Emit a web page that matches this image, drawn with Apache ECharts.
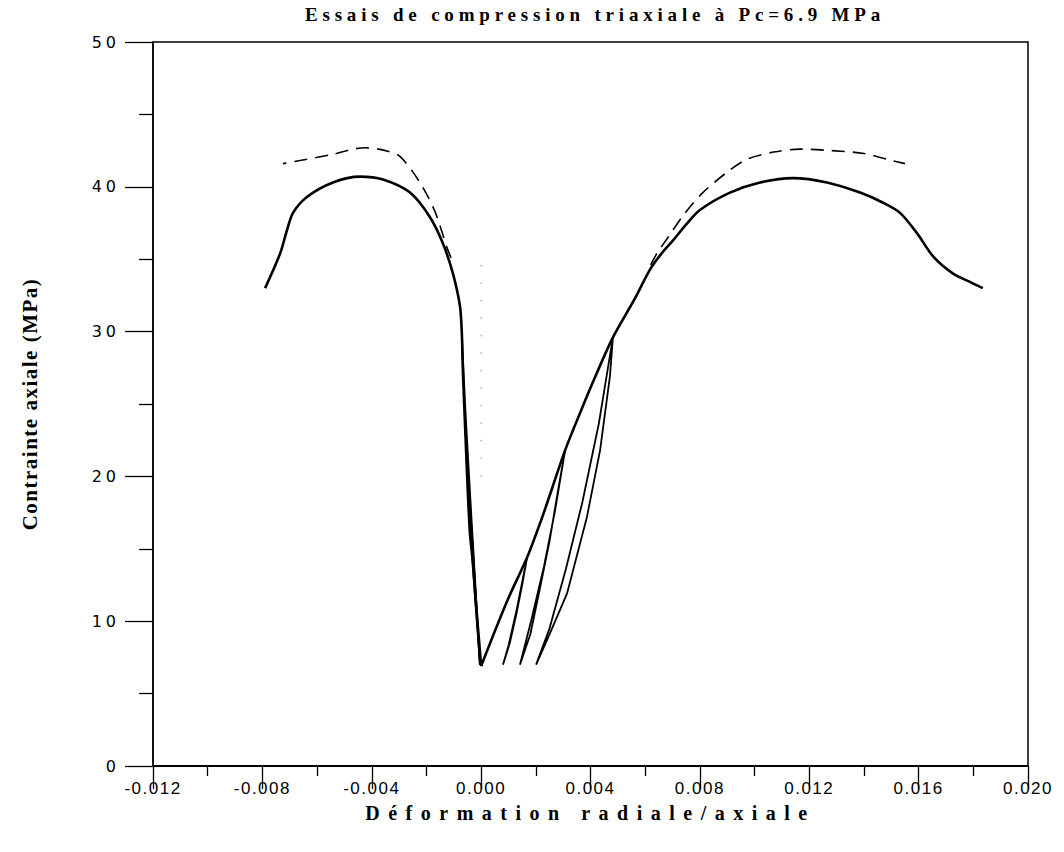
<!DOCTYPE html>
<html>
<head>
<meta charset="utf-8">
<script src="https://cdn.jsdelivr.net/npm/echarts@6/dist/echarts.min.js"></script>
<style>
  html, body { margin: 0; padding: 0; background: #fff; }
  #chart { width: 1064px; height: 852px; }
</style>
</head>
<body>
<div id="chart"></div>
<script>
// ---- Data (strain, stress in MPa) ----
const xTicks = [-0.012, -0.008, -0.004, 0.000, 0.004, 0.008, 0.012, 0.016, 0.020];
const yTicks = [0, 10, 20, 30, 40, 50];

// Axial side: loading envelope from the minimum up through the cycles and on to the end
const axialEnvelope = [
  [0.0000, 6.9], [0.0005, 9.3], [0.0010, 11.6], [0.00168, 14.4], [0.0022, 17.0],
  [0.0026, 19.2], [0.00307, 21.8], [0.0036, 24.3], [0.0042, 27.0], [0.00482, 29.6],
  [0.0056, 32.2], [0.00618, 34.3], [0.0066, 35.4], [0.00702, 36.3], [0.0075, 37.4],
  [0.0080, 38.4], [0.0091, 39.6], [0.0102, 40.3], [0.0114, 40.6], [0.01265, 40.3],
  [0.01386, 39.6], [0.0147, 38.9], [0.01532, 38.2], [0.01594, 36.8], [0.01653, 35.2],
  [0.01726, 34.0], [0.0178, 33.5], [0.01835, 33.0]
];
const axialCycle1 = [
  [0.00168, 14.4], [0.0015, 12.5], [0.00128, 10.4], [0.00105, 8.5], [0.0008, 7.0],
  [0.0010, 8.3], [0.0013, 10.8], [0.00168, 14.4]
];
const axialCycle2 = [
  [0.00307, 21.8], [0.0028, 18.9], [0.0025, 15.5], [0.0021, 11.8], [0.0018, 9.1], [0.00142, 7.0],
  [0.0018, 9.8], [0.0023, 13.8], [0.0027, 17.6], [0.00307, 21.8]
];
const axialCycle3 = [
  [0.00482, 29.6], [0.00471, 26.9], [0.00435, 21.8], [0.00387, 17.2], [0.00314, 11.9],
  [0.00241, 8.7], [0.00201, 7.0],
  [0.0025, 9.5], [0.0031, 13.6], [0.0037, 18.2], [0.0043, 23.6], [0.00482, 29.6]
];

// Radial side
const radialEnvelope = [
  [0.0000, 6.9], [-0.0001, 9.2], [-0.00022, 12.0], [-0.00032, 14.4], [-0.00041, 16.1],
  [-0.0005, 19.5], [-0.00055, 21.8], [-0.00062, 25.0], [-0.00068, 28.0], [-0.0007, 29.6],
  [-0.00077, 31.7], [-0.00103, 34.0], [-0.0014, 36.1], [-0.00187, 37.9], [-0.0026, 39.6],
  [-0.00359, 40.5], [-0.00443, 40.7], [-0.00542, 40.3], [-0.00637, 39.3], [-0.00688, 38.2],
  [-0.0071, 37.0], [-0.00735, 35.4], [-0.0079, 33.0]
];
const radialCycle1 = [
  [-0.00032, 14.4], [-0.00022, 11.5], [-0.0001, 8.5], [-0.00003, 7.0],
  [-0.00012, 9.3], [-0.00025, 12.4], [-0.00032, 14.4]
];
const radialCycle2 = [
  [-0.00055, 21.8], [-0.00042, 18.0], [-0.00026, 13.5], [-0.00012, 9.5], [-0.00004, 7.0],
  [-0.00015, 10.4], [-0.0003, 15.0], [-0.00045, 19.0], [-0.00055, 21.8]
];
const radialCycle3 = [
  [-0.0007, 29.6], [-0.0006, 25.5], [-0.00045, 20.0], [-0.0003, 15.0], [-0.00014, 10.0], [-0.00005, 7.0],
  [-0.00018, 11.5], [-0.00035, 17.0], [-0.0005, 22.0], [-0.00062, 26.0], [-0.0007, 29.6]
];

// Dashed curves
const radialDashed = [
  [-0.0011, 35.1], [-0.00125, 35.8], [-0.00169, 38.3], [-0.00224, 40.3], [-0.00297, 42.1],
  [-0.0035, 42.5], [-0.00425, 42.7], [-0.00553, 42.2], [-0.00725, 41.6]
];
const axialDashed = [
  [0.0062, 34.6], [0.00643, 35.4], [0.00683, 36.5], [0.00742, 38.1], [0.00811, 39.6],
  [0.00899, 41.0], [0.00972, 41.9], [0.0107, 42.4], [0.01166, 42.6], [0.0128, 42.5],
  [0.0140, 42.3], [0.01484, 41.9], [0.0155, 41.6]
];
// faint dotted trace near zero
const dottedTrace = [[0.0000, 20.0], [0.0000, 35.0]];

const titleText = 'Essais de compression triaxiale à Pc=6.9 MPa';
const xName = 'Déformation radiale/axiale';
const yName = 'Contrainte axiale (MPa)';

// ---- Chart ----
const chart = echarts.init(document.getElementById('chart'), null, { renderer: 'svg' });

function curve(data, w, sm) {
  return { type: 'line', data: data, showSymbol: false, symbol: 'none', smooth: sm,
    lineStyle: { color: '#000', width: w }, z: 3, silent: true };
}

chart.setOption({
  animation: false,
  backgroundColor: '#fff',
  title: {
    text: titleText, left: 590, top: 0, textAlign: 'center',
    textStyle: { fontFamily: 'Liberation Serif', fontWeight: 'bold', fontSize: 19, color: '#000' }
  },
  grid: { left: 153, top: 42, width: 875, height: 724, show: true, borderColor: '#000', borderWidth: 1.5, backgroundColor: 'transparent' },
  xAxis: {
    type: 'value', min: -0.012, max: 0.020, interval: 0.004,
    axisLine: { show: true, onZero: false, lineStyle: { color: '#000', width: 2 } },
    axisTick: { show: true, inside: false, length: 23, lineStyle: { color: '#000', width: 1.3 } },
    minorTick: { show: true, splitNumber: 2, length: 10, lineStyle: { color: '#000', width: 1.3 } },
    splitLine: { show: false },
    axisLabel: { color: '#000', fontFamily: 'Liberation Sans', fontSize: 17, margin: 14,
      formatter: v => v.toFixed(3) },
    name: xName, nameLocation: 'middle', nameGap: 37,
    nameTextStyle: { fontFamily: 'Liberation Serif', fontWeight: 'bold', fontSize: 20, color: '#000' }
  },
  yAxis: {
    type: 'value', min: 0, max: 50, interval: 10,
    axisLine: { show: true, onZero: false, lineStyle: { color: '#000', width: 1.5 } },
    axisTick: { show: true, inside: false, length: 28, lineStyle: { color: '#000', width: 1.3 } },
    minorTick: { show: true, splitNumber: 2, length: 14, lineStyle: { color: '#000', width: 1.3 } },
    splitLine: { show: false },
    axisLabel: { color: '#000', fontFamily: 'DejaVu Sans', fontSize: 16, margin: 33 },
    name: yName, nameLocation: 'middle', nameGap: 113, nameRotate: 90,
    nameTextStyle: { fontFamily: 'Liberation Serif', fontWeight: 'bold', fontSize: 21, color: '#000' }
  },
  series: [
    curve(axialEnvelope, 2.6, 0.3),
    curve(axialCycle1, 1.8, false),
    curve(axialCycle2, 1.8, false),
    curve(axialCycle3, 1.8, false),
    curve(radialEnvelope, 2.6, 0.3),
    curve(radialCycle1, 1.8, false),
    curve(radialCycle2, 1.8, false),
    curve(radialCycle3, 1.8, false),
    { type: 'line', data: radialDashed, showSymbol: false, symbol: 'none', silent: true, smooth: 0.3,
      lineStyle: { color: '#000', width: 1.6, type: [13, 8] }, z: 2 },
    { type: 'line', data: axialDashed, showSymbol: false, symbol: 'none', silent: true, smooth: 0.3,
      lineStyle: { color: '#000', width: 1.6, type: [13, 8] }, z: 2 },
    { type: 'line', data: dottedTrace, showSymbol: false, symbol: 'none', silent: true,
      lineStyle: { color: '#888', width: 1, type: [1.5, 16] }, z: 1 }
  ]
});

// letter spacing to mimic the original typesetting
function applySpacing() {
  const map = {};
  map[titleText] = '4.8px';
  map[xName] = '8.5px';
  map[yName] = '1.5px';
  const nodes = document.querySelectorAll('#chart text');
  nodes.forEach(n => {
    const t = n.textContent;
    if (map[t]) n.style.letterSpacing = map[t];
    else if (/^-?\d+\.\d{3}$/.test(t)) n.style.letterSpacing = '1.5px';
    else if (/^\d+$/.test(t)) n.style.letterSpacing = '4px';
  });
}
applySpacing();
chart.on('finished', applySpacing);
</script>
</body>
</html>
